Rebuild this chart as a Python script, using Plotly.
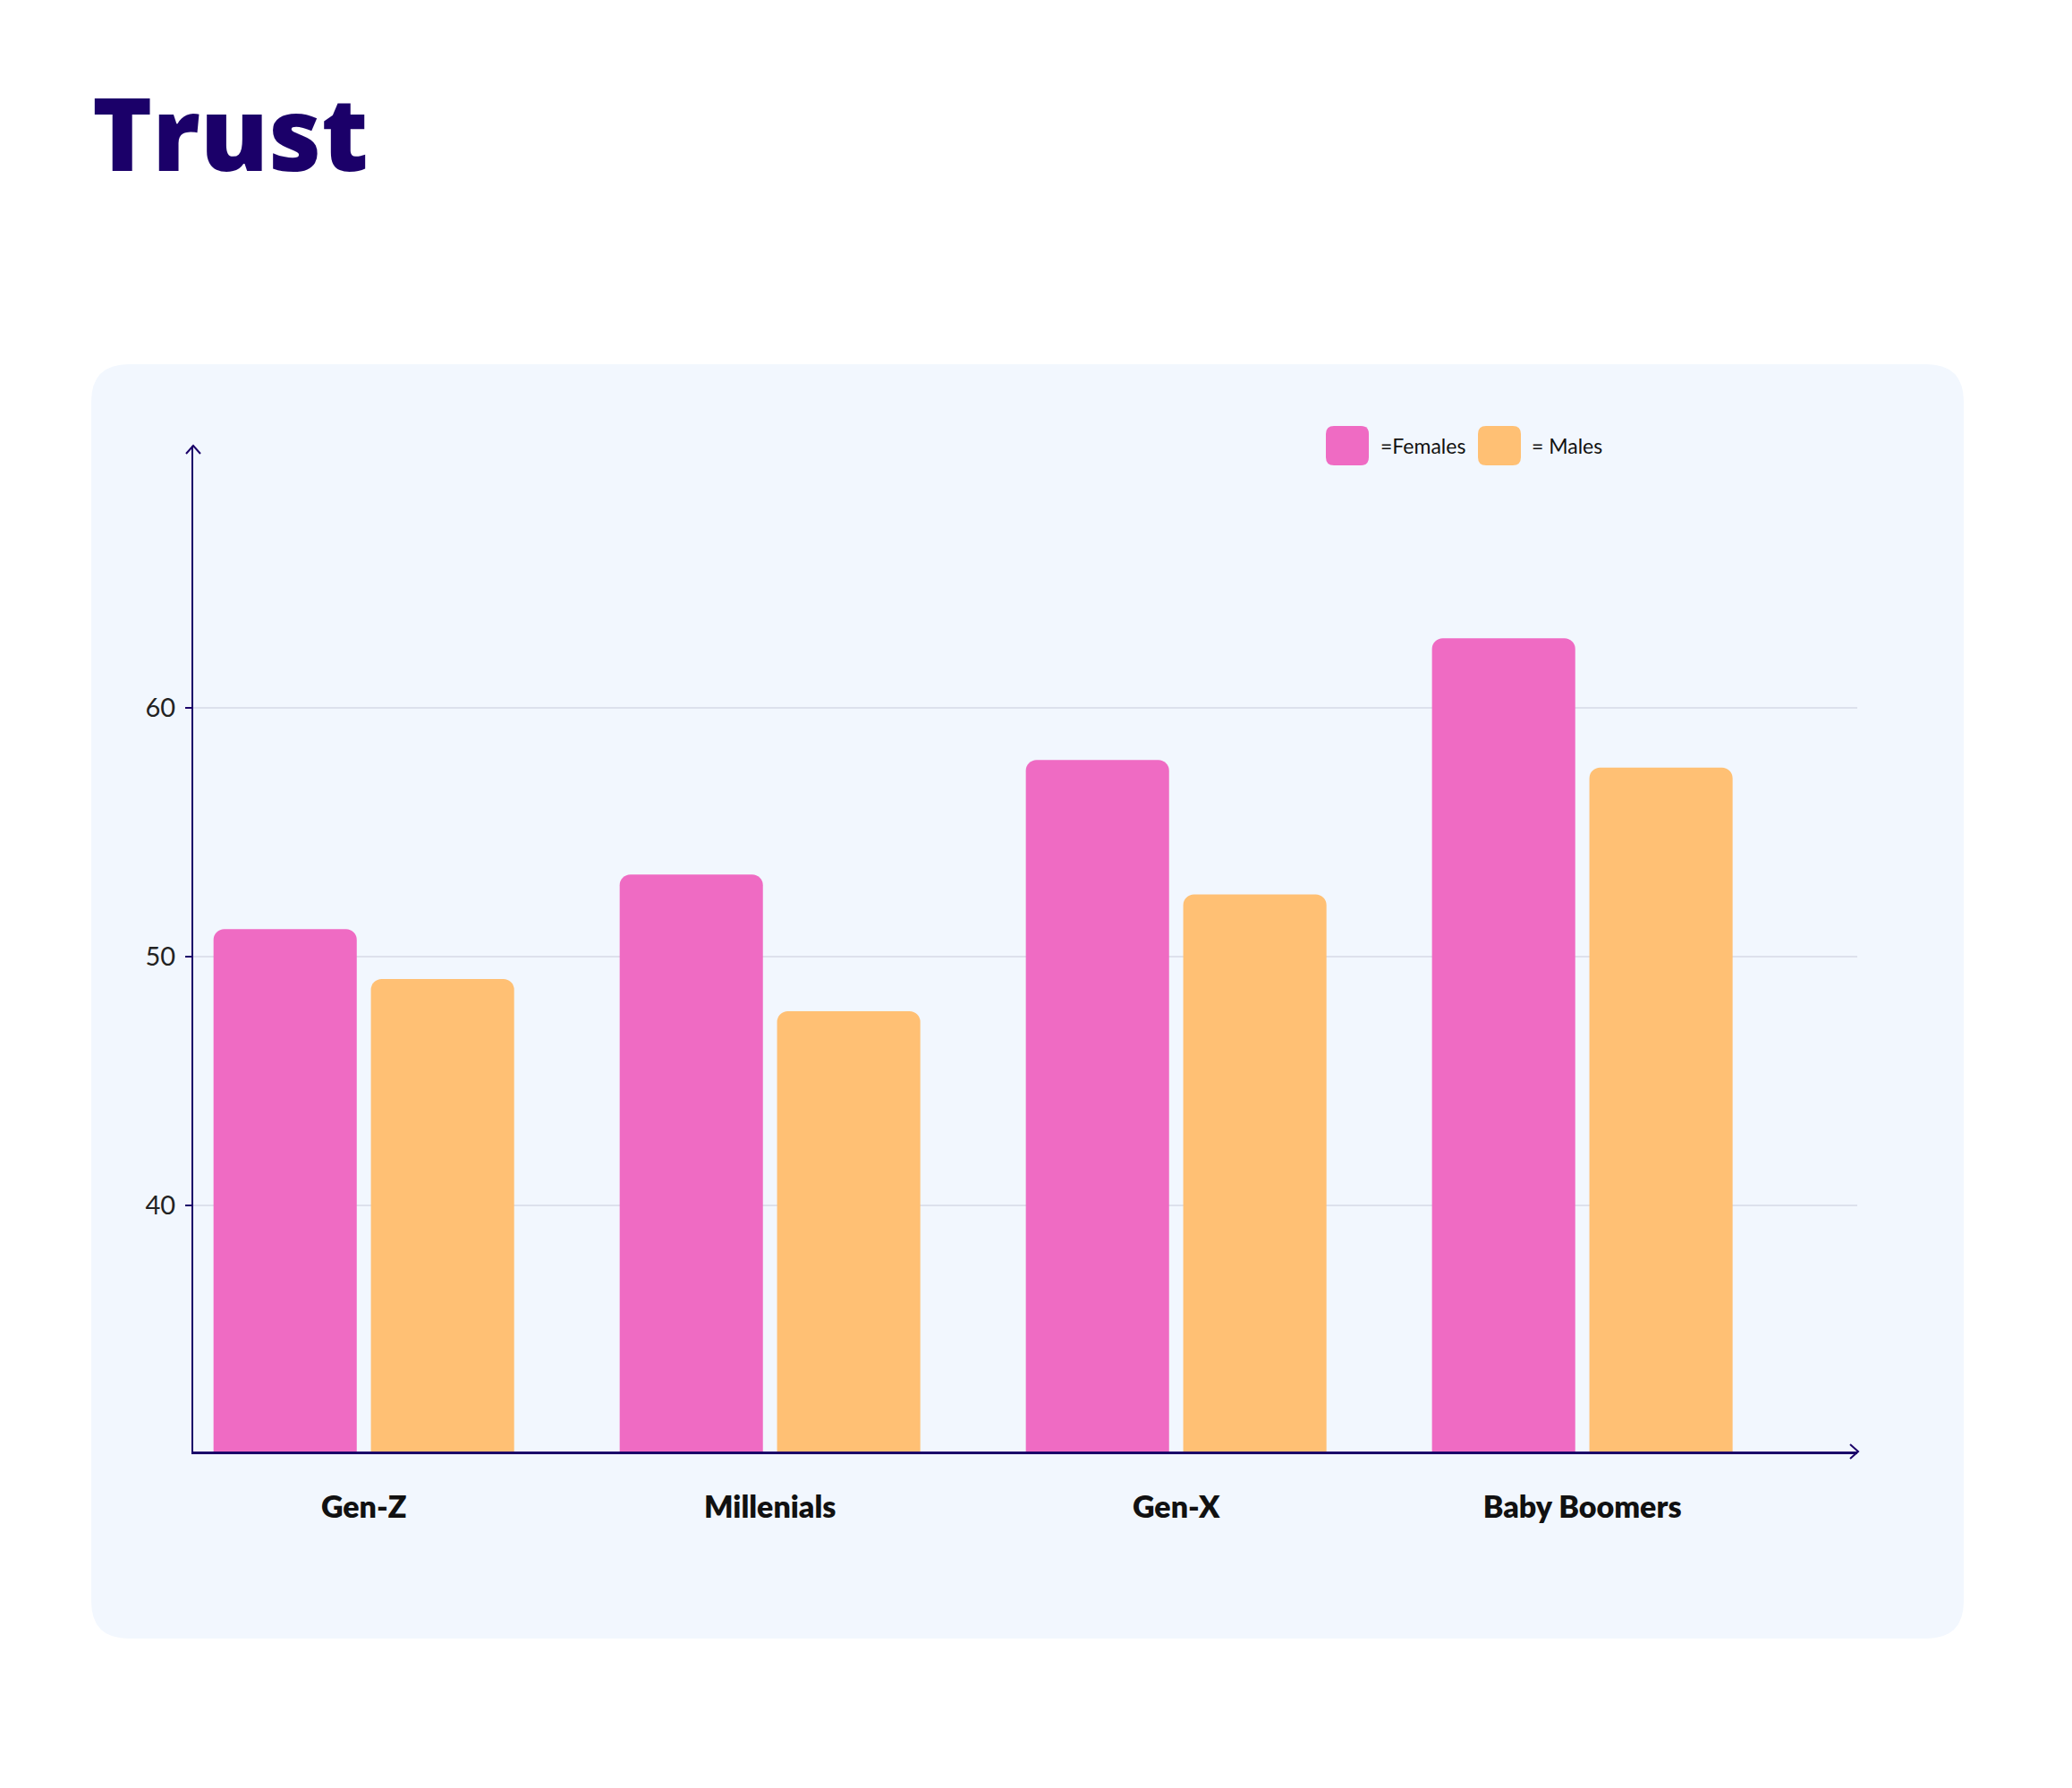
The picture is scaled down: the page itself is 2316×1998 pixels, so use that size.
import plotly.graph_objects as go

# values
categories = ["Gen-Z", "Millenials", "Gen-X", "Baby Boomers"]
females = [51.1, 53.3, 57.9, 62.8]
males = [49.1, 47.8, 52.5, 57.6]
y_ticks = [40, 50, 60]

W, H = 2316, 1998
OFF = 8  # page body margin
NAVY = "#1b0069"
PINK = "#ef6bc3"
ORANGE = "#ffc074"


def px(x):
    return (x - OFF) / W


def py(y):
    return 1 - (y - OFF) / H


def rounded_rect(x0, y0, x1, y1, r):
    # pixel box -> paper coords path with rounded corners
    p = [
        f"M {px(x0 + r)} {py(y0)}",
        f"L {px(x1 - r)} {py(y0)}",
        f"Q {px(x1)} {py(y0)} {px(x1)} {py(y0 + r)}",
        f"L {px(x1)} {py(y1 - r)}",
        f"Q {px(x1)} {py(y1)} {px(x1 - r)} {py(y1)}",
        f"L {px(x0 + r)} {py(y1)}",
        f"Q {px(x0)} {py(y1)} {px(x0)} {py(y1 - r)}",
        f"L {px(x0)} {py(y0 + r)}",
        f"Q {px(x0)} {py(y0)} {px(x0 + r)} {py(y0)}",
        "Z",
    ]
    return " ".join(p)


fig = go.Figure()
fig.add_trace(go.Bar(x=categories, y=females, name="=Females",
                     marker=dict(color=PINK, line=dict(width=0))))
fig.add_trace(go.Bar(x=categories, y=males, name="= Males",
                     marker=dict(color=ORANGE, line=dict(width=0))))

shapes = []
# card background
shapes.append(dict(type="path", xref="paper", yref="paper", layer="below",
                   path=rounded_rect(102, 407, 2195, 1831, 42),
                   fillcolor="#f2f7fe", line=dict(width=0)))
# axis arrow heads
shapes.append(dict(type="path", xref="paper", yref="paper",
                   path=f"M {px(208)} {py(507)} L {px(216)} {py(498)} L {px(224)} {py(507)}",
                   line=dict(color=NAVY, width=2)))
shapes.append(dict(type="path", xref="paper", yref="paper",
                   path=f"M {px(2068)} {py(1614)} L {px(2077)} {py(1622)} L {px(2068)} {py(1630)}",
                   line=dict(color=NAVY, width=2)))
# legend swatches
shapes.append(dict(type="path", xref="paper", yref="paper",
                   path=rounded_rect(1482, 476, 1530, 520, 9),
                   fillcolor=PINK, line=dict(width=0)))
shapes.append(dict(type="path", xref="paper", yref="paper",
                   path=rounded_rect(1652, 476, 1700, 520, 9),
                   fillcolor=ORANGE, line=dict(width=0)))

annotations = [
    dict(text="=Females", x=px(1541), y=py(498), xref="paper", yref="paper",
         xanchor="left", yanchor="middle", showarrow=False,
         font=dict(family="Lato", size=23, color="#111111")),
    dict(text="= Males", x=px(1710), y=py(498), xref="paper", yref="paper",
         xanchor="left", yanchor="middle", showarrow=False,
         font=dict(family="Lato", size=23, color="#111111")),
]

fig.update_layout(
    width=W, height=H,
    margin=dict(l=0, r=0, t=0, b=0),
    paper_bgcolor="white",
    plot_bgcolor="rgba(0,0,0,0)",
    showlegend=False,
    barmode="group",
    bargap=0.225,
    bargroupgap=0.09,
    barcornerradius=12,
    title=dict(text="Trust", x=px(103), xanchor="left", xref="paper",
               y=py(151), yanchor="middle", yref="container",
               font=dict(family="Open Sans", size=114, color=NAVY, weight=800)),
    shapes=shapes,
    annotations=annotations,
    xaxis=dict(
        domain=[px(216), px(2076)],
        range=[-0.42, 3.677],
        showline=True, linecolor=NAVY, linewidth=3,
        showgrid=False, zeroline=False, ticks="",
        tickfont=dict(family="Lato", size=34, color="#111111", weight=800),
        ticklabelstandoff=30,
    ),
    yaxis=dict(
        domain=[py(1622), py(498)],
        range=[30.1, 70.54],
        tickvals=y_ticks,
        showline=True, linecolor=NAVY, linewidth=2,
        showgrid=True, gridcolor="#dde1ec", gridwidth=2,
        zeroline=False,
        ticks="outside", ticklen=7, tickwidth=2, tickcolor=NAVY,
        tickfont=dict(family="Lato", size=29, color="#222222"),
        ticklabelstandoff=5,
    ),
)

fig.write_html("out.html")
